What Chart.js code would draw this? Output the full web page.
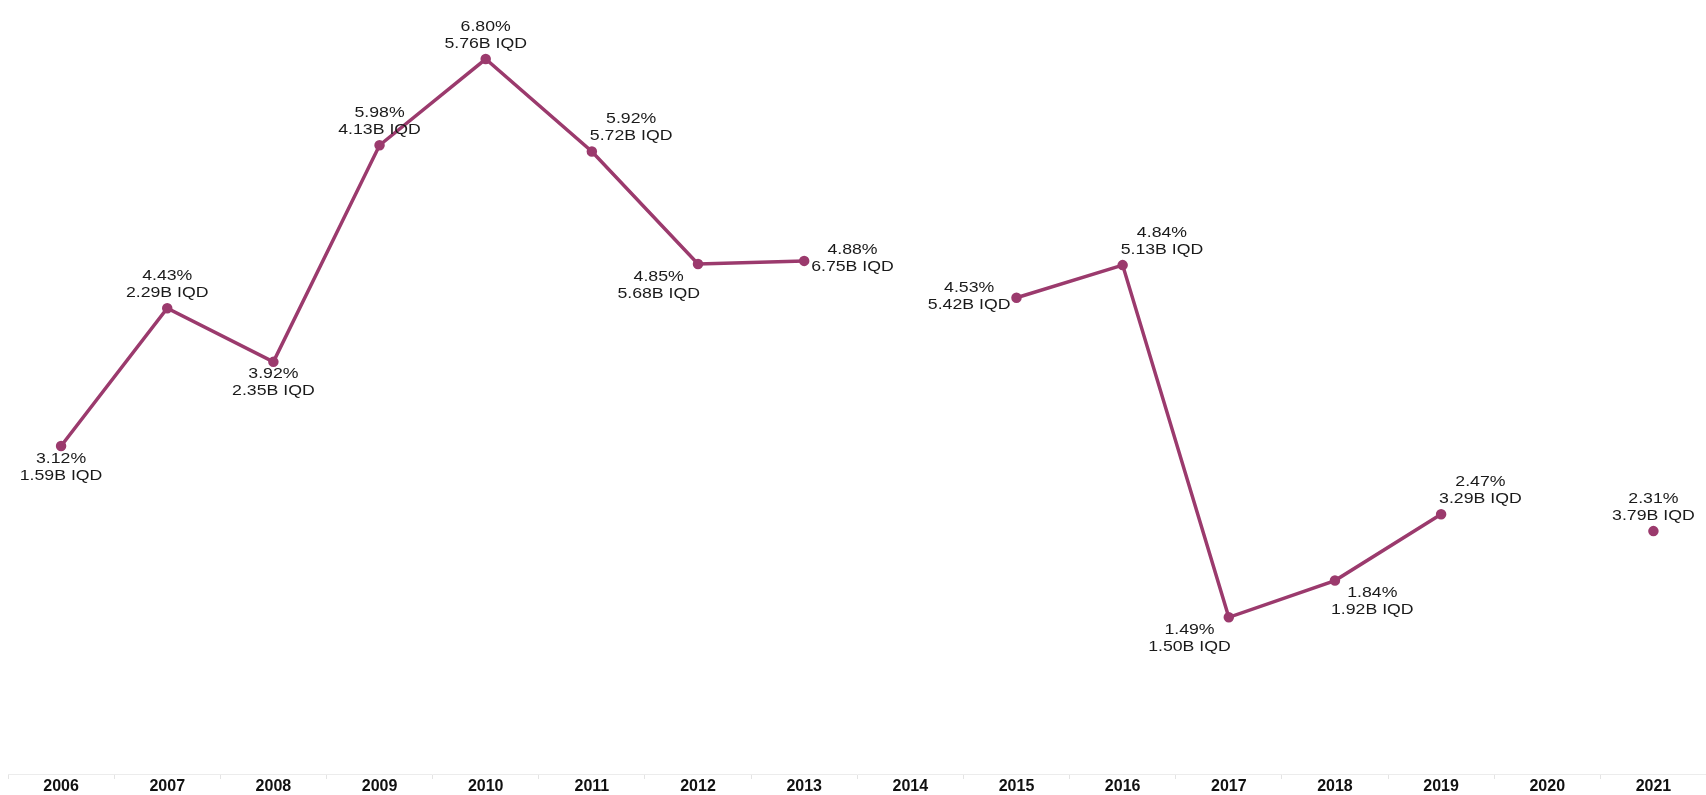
<!DOCTYPE html>
<html>
<head>
<meta charset="utf-8">
<script src="https://cdn.jsdelivr.net/npm/chart.js@4/dist/chart.umd.min.js"></script>
<style>
  html, body { margin: 0; padding: 0; background: #fff; overflow: hidden; }
  canvas { display: block; }
</style>
</head>
<body>
<canvas id="myChart" width="1714" height="795"></canvas>
<script>
const years = ['2006', '2007', '2008', '2009', '2010', '2011', '2012', '2013', '2014',
  '2015', '2016', '2017', '2018', '2019', '2020', '2021']
// share in percent, gaps where no figure was reported
const shareValues = [3.12, 4.43, 3.92, 5.98, 6.80, 5.92, 4.85, 4.88, null,
  4.53, 4.84, 1.49, 1.84, 2.47, null, 2.31]
// amount in billions of IQD
const amountValues = [1.59, 2.29, 2.35, 4.13, 5.76, 5.72, 5.68, 6.75, null,
  5.42, 5.13, 1.50, 1.92, 3.29, null, 3.79]
// where each label sits around its point
const labelSpots = ['b', 't', 'b', 't', 't', 'tr', 'bl', 'r', null,
  'l', 'tr', 'bl', 'br', 'tr', null, 't']

const lineColor = '#9b3a6d'

const pointLabels = {
  id: 'pointLabels',
  afterDatasetsDraw(chart) {
    const ctx = chart.ctx
    const meta = chart.getDatasetMeta(0)
    const stretch = 1.18
    const lineGap = 17
    ctx.save()
    ctx.font = '15px "Liberation Sans", Arial, sans-serif'
    ctx.fillStyle = '#1a1a1a'
    ctx.textBaseline = 'middle'
    ctx.textAlign = 'center'
    meta.data.forEach((pt, i) => {
      if (shareValues[i] == null) return
      const lines = [shareValues[i].toFixed(2) + '%', amountValues[i].toFixed(2) + 'B IQD']
      const w = Math.max(...lines.map(l => ctx.measureText(l).width)) * stretch
      let cx = pt.x
      let cy = pt.y
      switch (labelSpots[i]) {
        case 't': cy -= 24; break
        case 'b': cy += 21; break
        case 'tr': cx += w / 2 - 2; cy -= 24; break
        case 'bl': cx -= w / 2 - 2; cy += 21; break
        case 'br': cx += w / 2 - 4; cy += 21; break
        case 'r': cx += w / 2 + 7; cy -= 3; break
        case 'l': cx -= w / 2 + 6; cy -= 1; break
      }
      lines.forEach((l, k) => {
        const y = cy + (k - 0.5) * lineGap
        ctx.save()
        ctx.translate(cx, y)
        ctx.scale(stretch, 1)
        ctx.fillText(l, 0, 0)
        ctx.restore()
      })
    })
    ctx.restore()
  }
}

const ctx = document.getElementById('myChart').getContext('2d')

new Chart(ctx, {
  type: 'line',
  data: {
    labels: years,
    datasets: [{
      data: shareValues,
      borderColor: lineColor,
      backgroundColor: lineColor,
      pointBackgroundColor: lineColor,
      pointBorderColor: lineColor,
      borderWidth: 3.5,
      pointRadius: 3.5,
      tension: 0,
      spanGaps: false,
      clip: false
    }]
  },
  options: {
    responsive: false,
    devicePixelRatio: 1,
    animation: false,
    layout: { padding: { top: 38, left: 8, right: 0, bottom: 0 } },
    plugins: {
      legend: { display: false },
      tooltip: { enabled: false }
    },
    scales: {
      x: {
        offset: true,
        grid: {
          offset: true,
          drawOnChartArea: false,
          drawTicks: true,
          tickLength: 5,
          color: '#e4e4e4'
        },
        border: { color: '#ececec', width: 1 },
        ticks: {
          color: '#111',
          padding: 0,
          maxRotation: 0,
          font: { family: '"Liberation Sans", Arial, sans-serif', size: 16, weight: 'bold', lineHeight: 1 }
        }
      },
      y: {
        display: false,
        min: 0,
        max: 7
      }
    }
  },
  plugins: [pointLabels]
})
</script>
</body>
</html>
